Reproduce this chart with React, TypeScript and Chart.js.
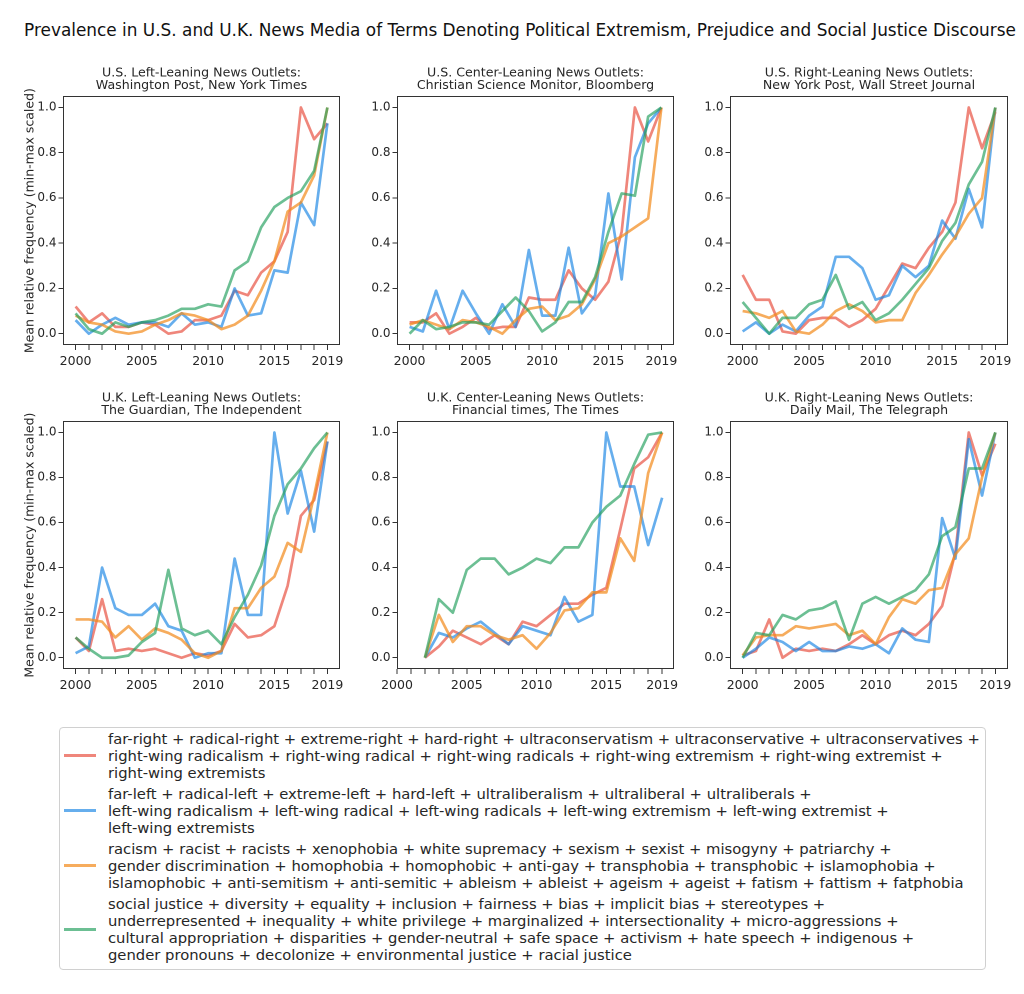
import React, { useEffect, useRef } from "react";
import { Chart, registerables } from "chart.js";

Chart.register(...registerables);

// ---------- data ----------
const YEARS = [2000, 2001, 2002, 2003, 2004, 2005, 2006, 2007, 2008, 2009, 2010, 2011, 2012, 2013, 2014, 2015, 2016, 2017, 2018, 2019];
const X_LABEL_YEARS = [2000, 2005, 2010, 2015, 2019];
const Y_TICKS = [0, 0.2, 0.4, 0.6, 0.8, 1.0];

const FIG_TITLE = "Prevalence in U.S. and U.K. News Media of Terms Denoting Political Extremism, Prejudice and Social Justice Discourse";
const Y_AXIS_LABEL = "Mean relative frequency (min-max scaled)";

const PANEL_TITLES = [
  ["U.S. Left-Leaning News Outlets:", "Washington Post, New York Times"],
  ["U.S. Center-Leaning News Outlets:", "Christian Science Monitor, Bloomberg"],
  ["U.S. Right-Leaning News Outlets:", "New York Post, Wall Street Journal"],
  ["U.K. Left-Leaning News Outlets:", "The Guardian, The Independent"],
  ["U.K. Center-Leaning News Outlets:", "Financial times, The Times"],
  ["U.K. Right-Leaning News Outlets:", "Daily Mail, The Telegraph"],
];

const SERIES_LABELS = [
  [
    "far-right + radical-right + extreme-right + hard-right + ultraconservatism + ultraconservative + ultraconservatives +",
    "right-wing radicalism + right-wing radical + right-wing radicals + right-wing extremism + right-wing extremist +",
    "right-wing extremists",
  ],
  [
    "far-left + radical-left + extreme-left + hard-left + ultraliberalism + ultraliberal + ultraliberals +",
    "left-wing radicalism + left-wing radical + left-wing radicals + left-wing extremism + left-wing extremist +",
    "left-wing extremists",
  ],
  [
    "racism + racist + racists + xenophobia + white supremacy + sexism + sexist + misogyny + patriarchy +",
    "gender discrimination + homophobia + homophobic + anti-gay + transphobia + transphobic + islamophobia +",
    "islamophobic + anti-semitism + anti-semitic + ableism + ableist + ageism + ageist + fatism + fattism + fatphobia",
  ],
  [
    "social justice + diversity + equality + inclusion + fairness + bias + implicit bias + stereotypes +",
    "underrepresented + inequality + white privilege + marginalized + intersectionality + micro-aggressions +",
    "cultural appropriation + disparities + gender-neutral + safe space + activism + hate speech + indigenous +",
    "gender pronouns + decolonize + environmental justice + racial justice",
  ],
];

const SERIES_COLORS = [
  "rgba(231, 76, 60, 0.68)",
  "rgba(30, 136, 229, 0.68)",
  "rgba(243, 140, 30, 0.72)",
  "rgba(39, 160, 96, 0.68)",
];

// U.S. left-leaning
const US_LEFT_FAR_RIGHT = [0.12, 0.05, 0.09, 0.03, 0.03, 0.05, 0.04, 0.0, 0.01, 0.06, 0.06, 0.08, 0.19, 0.17, 0.27, 0.32, 0.45, 1.0, 0.86, 0.93];
const US_LEFT_FAR_LEFT = [0.06, 0.0, 0.04, 0.07, 0.04, 0.05, 0.05, 0.03, 0.09, 0.04, 0.05, 0.03, 0.2, 0.08, 0.09, 0.28, 0.27, 0.58, 0.48, 0.93];
const US_LEFT_PREJUDICE = [0.08, 0.05, 0.04, 0.01, 0.0, 0.01, 0.04, 0.06, 0.09, 0.08, 0.06, 0.02, 0.04, 0.08, 0.19, 0.32, 0.54, 0.58, 0.7, 1.0];
const US_LEFT_SOCIAL = [0.09, 0.02, 0.0, 0.05, 0.03, 0.05, 0.06, 0.08, 0.11, 0.11, 0.13, 0.12, 0.28, 0.32, 0.47, 0.56, 0.6, 0.63, 0.72, 1.0];

// U.S. center-leaning
const US_CENTER_FAR_RIGHT = [0.05, 0.05, 0.09, 0.0, 0.03, 0.07, 0.02, 0.03, 0.03, 0.16, 0.15, 0.15, 0.28, 0.2, 0.15, 0.23, 0.45, 1.0, 0.85, 1.0];
const US_CENTER_FAR_LEFT = [0.03, 0.01, 0.19, 0.02, 0.19, 0.09, 0.0, 0.13, 0.03, 0.37, 0.08, 0.08, 0.38, 0.09, 0.17, 0.62, 0.24, 0.78, 0.93, 1.0];
const US_CENTER_PREJUDICE = [0.04, 0.06, 0.04, 0.02, 0.06, 0.05, 0.03, 0.0, 0.06, 0.11, 0.12, 0.06, 0.08, 0.13, 0.24, 0.4, 0.43, 0.47, 0.51, 1.0];
const US_CENTER_SOCIAL = [0.0, 0.06, 0.02, 0.03, 0.05, 0.05, 0.04, 0.1, 0.16, 0.1, 0.01, 0.05, 0.14, 0.14, 0.25, 0.45, 0.62, 0.61, 0.96, 1.0];

// U.S. right-leaning
const US_RIGHT_FAR_RIGHT = [0.26, 0.15, 0.15, 0.01, 0.0, 0.06, 0.07, 0.07, 0.03, 0.06, 0.11, 0.21, 0.31, 0.29, 0.38, 0.45, 0.58, 1.0, 0.82, 0.98];
const US_RIGHT_FAR_LEFT = [0.01, 0.05, 0.0, 0.04, 0.01, 0.08, 0.12, 0.34, 0.34, 0.29, 0.15, 0.17, 0.3, 0.25, 0.3, 0.5, 0.42, 0.64, 0.47, 1.0];
const US_RIGHT_PREJUDICE = [0.1, 0.09, 0.07, 0.1, 0.01, 0.0, 0.04, 0.1, 0.13, 0.1, 0.05, 0.06, 0.06, 0.18, 0.26, 0.35, 0.43, 0.53, 0.6, 1.0];
const US_RIGHT_SOCIAL = [0.14, 0.07, 0.0, 0.07, 0.07, 0.13, 0.15, 0.26, 0.11, 0.14, 0.06, 0.09, 0.15, 0.22, 0.29, 0.41, 0.49, 0.66, 0.76, 1.0];

// U.K. left-leaning
const UK_LEFT_FAR_RIGHT = [0.09, 0.03, 0.26, 0.03, 0.04, 0.03, 0.04, 0.02, 0.0, 0.02, 0.01, 0.03, 0.15, 0.09, 0.1, 0.14, 0.32, 0.63, 0.7, 0.96];
const UK_LEFT_FAR_LEFT = [0.02, 0.05, 0.4, 0.22, 0.19, 0.19, 0.24, 0.14, 0.12, 0.0, 0.02, 0.02, 0.44, 0.19, 0.19, 1.0, 0.64, 0.83, 0.56, 0.96];
const UK_LEFT_PREJUDICE = [0.17, 0.17, 0.16, 0.09, 0.14, 0.08, 0.13, 0.11, 0.08, 0.02, 0.0, 0.03, 0.22, 0.22, 0.31, 0.36, 0.51, 0.47, 0.72, 1.0];
const UK_LEFT_SOCIAL = [0.09, 0.04, 0.0, 0.0, 0.01, 0.07, 0.11, 0.39, 0.13, 0.1, 0.12, 0.06, 0.18, 0.28, 0.41, 0.63, 0.77, 0.84, 0.93, 1.0];

// U.K. center-leaning (no data before 2002)
const UK_CENTER_FAR_RIGHT = [null, null, 0.0, 0.05, 0.12, 0.09, 0.06, 0.1, 0.06, 0.16, 0.14, 0.19, 0.24, 0.24, 0.28, 0.31, 0.57, 0.84, 0.89, 1.0];
const UK_CENTER_FAR_LEFT = [null, null, 0.0, 0.11, 0.09, 0.13, 0.16, 0.11, 0.06, 0.14, 0.12, 0.1, 0.27, 0.16, 0.19, 1.0, 0.76, 0.76, 0.5, 0.71];
const UK_CENTER_PREJUDICE = [null, null, 0.0, 0.19, 0.07, 0.14, 0.14, 0.1, 0.08, 0.1, 0.04, 0.11, 0.21, 0.22, 0.29, 0.29, 0.53, 0.43, 0.82, 1.0];
const UK_CENTER_SOCIAL = [null, null, 0.0, 0.26, 0.2, 0.39, 0.44, 0.44, 0.37, 0.4, 0.44, 0.42, 0.49, 0.49, 0.6, 0.67, 0.72, 0.86, 0.99, 1.0];

// U.K. right-leaning
const UK_RIGHT_FAR_RIGHT = [0.01, 0.03, 0.17, 0.0, 0.04, 0.03, 0.04, 0.03, 0.06, 0.1, 0.06, 0.1, 0.12, 0.1, 0.15, 0.23, 0.47, 1.0, 0.81, 0.95];
const UK_RIGHT_FAR_LEFT = [0.0, 0.04, 0.09, 0.07, 0.03, 0.07, 0.03, 0.03, 0.05, 0.04, 0.06, 0.02, 0.13, 0.08, 0.07, 0.62, 0.44, 0.97, 0.72, 1.0];
const UK_RIGHT_PREJUDICE = [0.01, 0.09, 0.1, 0.1, 0.14, 0.13, 0.14, 0.15, 0.1, 0.12, 0.06, 0.18, 0.26, 0.24, 0.3, 0.31, 0.46, 0.53, 0.8, 1.0];
const UK_RIGHT_SOCIAL = [0.0, 0.11, 0.1, 0.19, 0.17, 0.21, 0.22, 0.25, 0.08, 0.24, 0.27, 0.24, 0.27, 0.3, 0.37, 0.54, 0.58, 0.84, 0.84, 1.0];

const PANEL_SERIES = [
  [US_LEFT_FAR_RIGHT, US_LEFT_FAR_LEFT, US_LEFT_PREJUDICE, US_LEFT_SOCIAL],
  [US_CENTER_FAR_RIGHT, US_CENTER_FAR_LEFT, US_CENTER_PREJUDICE, US_CENTER_SOCIAL],
  [US_RIGHT_FAR_RIGHT, US_RIGHT_FAR_LEFT, US_RIGHT_PREJUDICE, US_RIGHT_SOCIAL],
  [UK_LEFT_FAR_RIGHT, UK_LEFT_FAR_LEFT, UK_LEFT_PREJUDICE, UK_LEFT_SOCIAL],
  [UK_CENTER_FAR_RIGHT, UK_CENTER_FAR_LEFT, UK_CENTER_PREJUDICE, UK_CENTER_SOCIAL],
  [UK_RIGHT_FAR_RIGHT, UK_RIGHT_FAR_LEFT, UK_RIGHT_PREJUDICE, UK_RIGHT_SOCIAL],
];

// ---------- layout ----------
const FONT = "'DejaVu Sans', 'Liberation Sans', sans-serif";
const TEXT_COLOR = "#262626";
const PAD_L = 50;
const PAD_R = 8;
const PAD_T = 34;
const PAD_B = 30;

const PANEL_BOXES = [
  { left: 63, top: 96, w: 277, h: 249 },
  { left: 397, top: 96, w: 277, h: 249 },
  { left: 730, top: 96, w: 278, h: 249 },
  { left: 63, top: 421, w: 277, h: 248 },
  { left: 397, top: 421, w: 277, h: 248 },
  { left: 730, top: 421, w: 278, h: 248 },
];
const PANEL_XMIN = [1999.05, 1999.05, 1999.05, 1999.05, 2000, 1999.05];
const PANEL_XMAX = [2019.95, 2019.95, 2019.95, 2019.95, 2019.85, 2019.95];
const PANEL_YLABEL = [true, false, false, true, false, false];

const framePlugin = {
  id: "frame",
  afterDatasetsDraw(chart: any) {
    const { ctx, chartArea } = chart;
    ctx.save();
    ctx.strokeStyle = "#333";
    ctx.lineWidth = 1;
    ctx.strokeRect(
      Math.round(chartArea.left) + 0.5,
      Math.round(chartArea.top) + 0.5,
      Math.round(chartArea.right - chartArea.left) - 1,
      Math.round(chartArea.bottom - chartArea.top) - 1
    );
    ctx.restore();
  },
};

function Panel({ index }: { index: number }) {
  const ref = useRef<HTMLCanvasElement | null>(null);
  const box = PANEL_BOXES[index];
  const cw = box.w + PAD_L + PAD_R;
  const ch = box.h + PAD_T + PAD_B;

  useEffect(() => {
    if (!ref.current) return;
    const series = PANEL_SERIES[index];
    const datasets = series.map((vals, si) => ({
      label: SERIES_LABELS[si].join(" "),
      data: YEARS.map((x, i) => ({ x, y: vals[i] })).filter((p) => p.y !== null),
      borderColor: SERIES_COLORS[si],
      backgroundColor: SERIES_COLORS[si],
      borderWidth: 2.7,
      pointRadius: 0,
      tension: 0,
      fill: false,
      borderJoinStyle: "round" as const,
      order: 4 - si,
    }));
    const chart = new Chart(ref.current, {
      type: "line",
      data: { datasets },
      plugins: [framePlugin],
      options: {
        animation: false,
        responsive: false,
        devicePixelRatio: 2,
        layout: { padding: { left: 0, right: PAD_R, top: 0, bottom: 0 } },
        plugins: {
          legend: { display: false },
          tooltip: { enabled: false },
          title: {
            display: true,
            text: PANEL_TITLES[index],
            fullSize: false,
            color: TEXT_COLOR,
            font: { family: FONT, size: 12.6, weight: "normal", lineHeight: 1.0 },
            padding: { top: 5, bottom: 4 },
          },
        },
        scales: {
          x: {
            type: "linear",
            min: PANEL_XMIN[index],
            max: PANEL_XMAX[index],
            afterBuildTicks: (scale: any) => {
              scale.ticks = YEARS.map((v) => ({ value: v }));
            },
            afterFit: (scale: any) => {
              scale.height = PAD_B;
              scale.paddingLeft = 0;
              scale.paddingRight = 0;
            },
            grid: { display: true, drawOnChartArea: false, drawTicks: true, tickLength: 5, color: "#333" },
            border: { display: false },
            ticks: {
              autoSkip: false,
              maxRotation: 0,
              padding: 4,
              color: TEXT_COLOR,
              font: { family: FONT, size: 12.5 },
              callback: (v: any) => (X_LABEL_YEARS.includes(Number(v)) ? String(v) : ""),
            },
          },
          y: {
            type: "linear",
            min: -0.05,
            max: 1.05,
            afterBuildTicks: (scale: any) => {
              scale.ticks = Y_TICKS.map((v) => ({ value: v }));
            },
            afterFit: (scale: any) => {
              scale.width = PAD_L;
              scale.paddingTop = 0;
              scale.paddingBottom = 0;
            },
            grid: { display: true, drawOnChartArea: false, drawTicks: true, tickLength: 4.5, color: "#333" },
            border: { display: false },
            ticks: {
              padding: 2,
              color: TEXT_COLOR,
              font: { family: FONT, size: 12 },
              callback: (v: any) => Number(v).toFixed(1),
            },
            title: {
              display: PANEL_YLABEL[index],
              text: Y_AXIS_LABEL,
              color: TEXT_COLOR,
              font: { family: FONT, size: 12.5, lineHeight: 1.2 },
              padding: { top: 9.5, bottom: 0 },
            },
          },
        },
      },
    });
    return () => chart.destroy();
  }, [index]);

  return (
    <canvas
      ref={ref}
      width={cw}
      height={ch}
      style={{
        position: "absolute",
        left: box.left - PAD_L,
        top: box.top - PAD_T,
        width: cw,
        height: ch,
      }}
    />
  );
}

function Legend() {
  return (
    <div
      style={{
        position: "absolute",
        left: 59,
        top: 727,
        width: 925,
        height: 239,
        border: "1px solid #d0d0d0",
        borderRadius: 4,
        background: "#fff",
        boxSizing: "content-box",
        paddingTop: 2,
        fontFamily: FONT,
        fontSize: 14.78,
        color: TEXT_COLOR,
      }}
    >
      {SERIES_LABELS.map((lines, i) => (
        <div
          key={i}
          style={{
            display: "flex",
            alignItems: "center",
            marginBottom: 4,
          }}
        >
          <div
            style={{
              width: 32,
              height: 3,
              marginLeft: 4,
              marginRight: 12,
              background: SERIES_COLORS[i],
              flex: "none",
            }}
          />
          <div style={{ lineHeight: "17px", whiteSpace: "nowrap" }}>
            {lines.map((l, j) => (
              <div key={j}>{l}</div>
            ))}
          </div>
        </div>
      ))}
    </div>
  );
}

export default function App() {
  useEffect(() => {
    document.body.style.margin = "0";
    document.body.style.background = "#fff";
  }, []);
  return (
    <div style={{ position: "relative", width: 1024, height: 994, background: "#fff", overflow: "hidden" }}>
      <div
        style={{
          position: "absolute",
          left: 0,
          width: 1040,
          top: 19,
          textAlign: "center",
          fontFamily: FONT,
          fontSize: 16.9,
          lineHeight: "22px",
          color: "#111",
          whiteSpace: "nowrap",
        }}
      >
        {FIG_TITLE}
      </div>
      {PANEL_BOXES.map((_, i) => (
        <Panel key={i} index={i} />
      ))}
      <Legend />
    </div>
  );
}
